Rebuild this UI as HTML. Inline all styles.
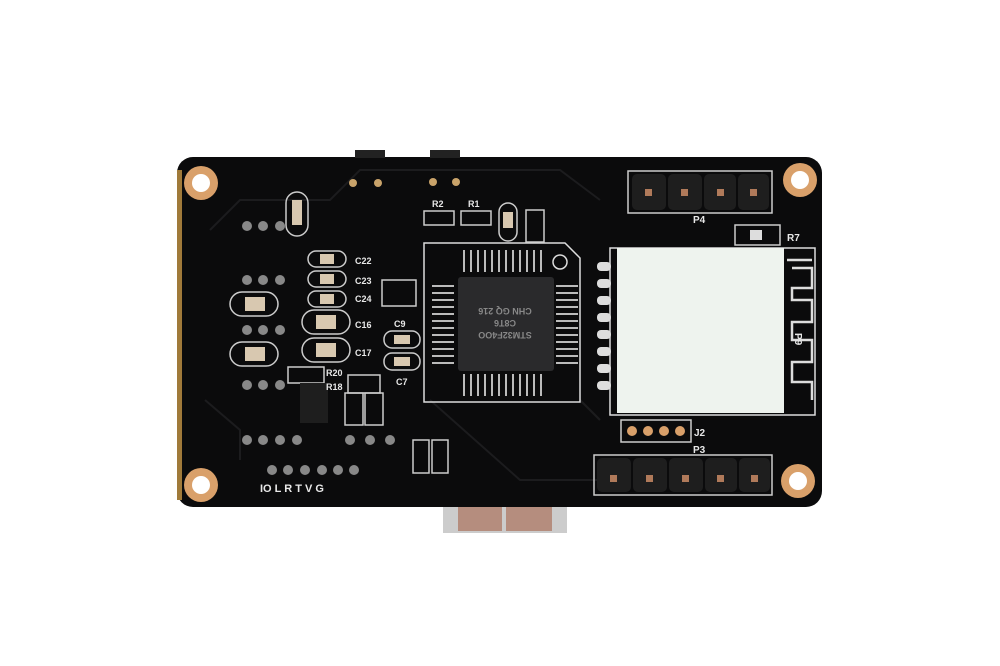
<!DOCTYPE html>
<html><head><style>
html,body{margin:0;padding:0;background:#fff;width:1000px;height:666px;overflow:hidden}
svg{display:block}
text{font-family:"Liberation Sans",sans-serif;fill:#e8e8e8;font-weight:bold}
</style></head><body>
<svg width="1000" height="666" viewBox="0 0 1000 666">
<rect width="1000" height="666" fill="#fff"/>
<!-- USB connector -->
<rect x="443" y="505" width="124" height="28" fill="#ccc"/>
<rect x="458" y="507" width="44" height="24" fill="#b58d7e"/>
<rect x="506" y="507" width="46" height="24" fill="#b58d7e"/>
<!-- board -->
<rect x="177" y="157" width="645" height="350" rx="16" fill="#0b0b0c"/>
<rect x="177" y="170" width="5" height="330" fill="#a07a3a"/>
<rect x="355" y="150" width="30" height="8" fill="#222"/>
<rect x="430" y="150" width="30" height="8" fill="#222"/>
<!-- holes -->
<g fill="#d9a06a"><circle cx="201" cy="183" r="17"/><circle cx="800" cy="180" r="17"/><circle cx="201" cy="485" r="17"/><circle cx="798" cy="481" r="17"/></g>
<g fill="#fff"><circle cx="201" cy="183" r="9"/><circle cx="800" cy="180" r="9"/><circle cx="201" cy="485" r="9"/><circle cx="798" cy="481" r="9"/></g>
<!-- traces -->
<g stroke="#1c1c1e" stroke-width="2" fill="none">
<path d="M210 230 L240 200 L330 200 L360 170 L560 170 L600 200"/>
<path d="M205 400 L240 430 L240 460"/>
<path d="M430 400 L520 480 L600 480"/>
<path d="M580 400 L600 420"/>
</g>
<!-- chip outline -->
<path d="M424 243 L565 243 L580 258 L580 402 L424 402 Z" fill="none" stroke="#ddd" stroke-width="1.5"/>
<circle cx="560" cy="262" r="7" fill="none" stroke="#ddd" stroke-width="1.5"/>
<g fill="#bbb">
<g id="tp"><rect x="463" y="250" width="2" height="22"/><rect x="470" y="250" width="2" height="22"/><rect x="477" y="250" width="2" height="22"/><rect x="484" y="250" width="2" height="22"/><rect x="491" y="250" width="2" height="22"/><rect x="498" y="250" width="2" height="22"/><rect x="505" y="250" width="2" height="22"/><rect x="512" y="250" width="2" height="22"/><rect x="519" y="250" width="2" height="22"/><rect x="526" y="250" width="2" height="22"/><rect x="533" y="250" width="2" height="22"/><rect x="540" y="250" width="2" height="22"/></g>
<use href="#tp" y="124"/>
<g id="lp"><rect x="432" y="285" width="22" height="2"/><rect x="432" y="292" width="22" height="2"/><rect x="432" y="299" width="22" height="2"/><rect x="432" y="306" width="22" height="2"/><rect x="432" y="313" width="22" height="2"/><rect x="432" y="320" width="22" height="2"/><rect x="432" y="327" width="22" height="2"/><rect x="432" y="334" width="22" height="2"/><rect x="432" y="341" width="22" height="2"/><rect x="432" y="348" width="22" height="2"/><rect x="432" y="355" width="22" height="2"/><rect x="432" y="362" width="22" height="2"/></g>
<use href="#lp" x="124"/>
</g>
<rect x="458" y="277" width="96" height="94" rx="3" fill="#2a2a2c"/>
<text x="505" y="318" font-size="9" text-anchor="middle" fill="#999" transform="rotate(180 505 325)" style="fill:#888">STM32F4OO</text>
<text x="505" y="330" font-size="9" text-anchor="middle" transform="rotate(180 505 325)" style="fill:#888">C8T6</text>
<text x="505" y="342" font-size="9" text-anchor="middle" transform="rotate(180 505 325)" style="fill:#888">CHN GQ 216</text>
<!-- white module -->
<path d="M610 248 L815 248 L815 415 L610 415 Z" fill="none" stroke="#ddd" stroke-width="1.5"/>
<rect x="617" y="248" width="167" height="165" fill="#eef3ee"/>
<path d="M787 260 L812 260 M792 268 L812 268 L812 288 L792 288 L792 300 L812 300 L812 322 L792 322 L792 340 L812 340 L812 362 L792 362 L792 382 L812 382 L812 400" stroke="#ddd" stroke-width="2.5" fill="none"/>
<g fill="#ddd"><rect x="597" y="262" width="14" height="9" rx="4"/><rect x="597" y="279" width="14" height="9" rx="4"/><rect x="597" y="296" width="14" height="9" rx="4"/><rect x="597" y="313" width="14" height="9" rx="4"/><rect x="597" y="330" width="14" height="9" rx="4"/><rect x="597" y="347" width="14" height="9" rx="4"/><rect x="597" y="364" width="14" height="9" rx="4"/><rect x="597" y="381" width="14" height="9" rx="4"/></g>
<!-- headers -->
<rect x="628" y="171" width="144" height="42" fill="none" stroke="#ccc" stroke-width="1.5"/>
<g fill="#1e1e1e"><rect x="632" y="174" width="34" height="36" rx="5"/><rect x="668" y="174" width="34" height="36" rx="5"/><rect x="704" y="174" width="32" height="36" rx="5"/><rect x="738" y="174" width="31" height="36" rx="5"/></g>
<g fill="#b07a5a"><rect x="645" y="189" width="7" height="7"/><rect x="681" y="189" width="7" height="7"/><rect x="717" y="189" width="7" height="7"/><rect x="750" y="189" width="7" height="7"/></g>
<rect x="594" y="455" width="178" height="40" fill="none" stroke="#ccc" stroke-width="1.5"/>
<g fill="#1e1e1e"><rect x="597" y="458" width="34" height="34" rx="5"/><rect x="633" y="458" width="34" height="34" rx="5"/><rect x="669" y="458" width="34" height="34" rx="5"/><rect x="705" y="458" width="32" height="34" rx="5"/><rect x="739" y="458" width="31" height="34" rx="5"/></g>
<g fill="#b07a5a"><rect x="610" y="475" width="7" height="7"/><rect x="646" y="475" width="7" height="7"/><rect x="682" y="475" width="7" height="7"/><rect x="717" y="475" width="7" height="7"/><rect x="751" y="475" width="7" height="7"/></g>
<rect x="621" y="420" width="70" height="22" fill="none" stroke="#ccc" stroke-width="1.5"/>
<g fill="#d9a06a"><circle cx="632" cy="431" r="5"/><circle cx="648" cy="431" r="5"/><circle cx="664" cy="431" r="5"/><circle cx="680" cy="431" r="5"/></g>
<text x="694" y="436" font-size="10">J2</text><text x="693" y="453" font-size="10">P3</text>
<text x="693" y="223" font-size="10">P4</text><text x="787" y="241" font-size="10">R7</text>
<text x="790" y="338" font-size="10" transform="rotate(90 795 338)">P9</text>
<rect x="735" y="225" width="45" height="20" fill="none" stroke="#ccc" stroke-width="1.5"/>
<rect x="750" y="230" width="12" height="10" fill="#ddd"/>
<!-- small components -->
<g fill="none" stroke="#ccc" stroke-width="1.5">
<rect x="424" y="211" width="30" height="14"/><rect x="461" y="211" width="30" height="14"/>
<rect x="499" y="203" width="18" height="38" rx="9"/><rect x="526" y="210" width="18" height="32"/>
<rect x="286" y="192" width="22" height="44" rx="11"/>
<rect x="308" y="251" width="38" height="16" rx="8"/><rect x="308" y="271" width="38" height="16" rx="8"/><rect x="308" y="291" width="38" height="16" rx="8"/>
<rect x="302" y="310" width="48" height="24" rx="12"/><rect x="302" y="338" width="48" height="24" rx="12"/>
<rect x="382" y="280" width="34" height="26"/>
<rect x="384" y="331" width="36" height="17" rx="8"/><rect x="384" y="353" width="36" height="17" rx="8"/>
<rect x="230" y="292" width="48" height="24" rx="12"/><rect x="230" y="342" width="48" height="24" rx="12"/>
<rect x="288" y="367" width="36" height="16"/><rect x="348" y="375" width="32" height="18"/>
<rect x="345" y="393" width="18" height="32"/><rect x="365" y="393" width="18" height="32"/>
<rect x="413" y="440" width="16" height="33"/><rect x="432" y="440" width="16" height="33"/>
</g>
<g fill="#d8c8b0"><rect x="292" y="200" width="10" height="25"/><rect x="320" y="254" width="14" height="10"/><rect x="320" y="274" width="14" height="10"/><rect x="320" y="294" width="14" height="10"/><rect x="316" y="315" width="20" height="14"/><rect x="316" y="343" width="20" height="14"/><rect x="245" y="297" width="20" height="14"/><rect x="245" y="347" width="20" height="14"/><rect x="394" y="335" width="16" height="9"/><rect x="394" y="357" width="16" height="9"/><rect x="503" y="212" width="10" height="16"/></g>
<rect x="300" y="383" width="28" height="40" fill="#1e1e1e"/>
<!-- vias -->
<g fill="#888"><circle cx="247" cy="226" r="5"/><circle cx="263" cy="226" r="5"/><circle cx="280" cy="226" r="5"/><circle cx="247" cy="280" r="5"/><circle cx="263" cy="280" r="5"/><circle cx="280" cy="280" r="5"/><circle cx="247" cy="330" r="5"/><circle cx="263" cy="330" r="5"/><circle cx="280" cy="330" r="5"/><circle cx="247" cy="385" r="5"/><circle cx="263" cy="385" r="5"/><circle cx="280" cy="385" r="5"/><circle cx="247" cy="440" r="5"/><circle cx="263" cy="440" r="5"/><circle cx="280" cy="440" r="5"/><circle cx="297" cy="440" r="5"/><circle cx="350" cy="440" r="5"/><circle cx="370" cy="440" r="5"/><circle cx="390" cy="440" r="5"/><circle cx="272" cy="470" r="5"/><circle cx="288" cy="470" r="5"/><circle cx="305" cy="470" r="5"/><circle cx="322" cy="470" r="5"/><circle cx="338" cy="470" r="5"/><circle cx="354" cy="470" r="5"/></g>
<g fill="#c9a36a"><circle cx="353" cy="183" r="4"/><circle cx="378" cy="183" r="4"/><circle cx="433" cy="182" r="4"/><circle cx="456" cy="182" r="4"/></g>
<!-- labels -->
<g font-size="9">
<text x="432" y="207">R2</text><text x="468" y="207">R1</text>
<text x="355" y="264">C22</text><text x="355" y="284">C23</text><text x="355" y="302">C24</text>
<text x="355" y="328">C16</text><text x="355" y="356">C17</text><text x="394" y="327">C9</text><text x="396" y="385">C7</text>
<text x="326" y="376">R20</text><text x="326" y="390">R18</text>
<text x="260" y="492" font-size="11">IO  L  R  T  V  G</text>
</g>
</svg>
</body></html>
